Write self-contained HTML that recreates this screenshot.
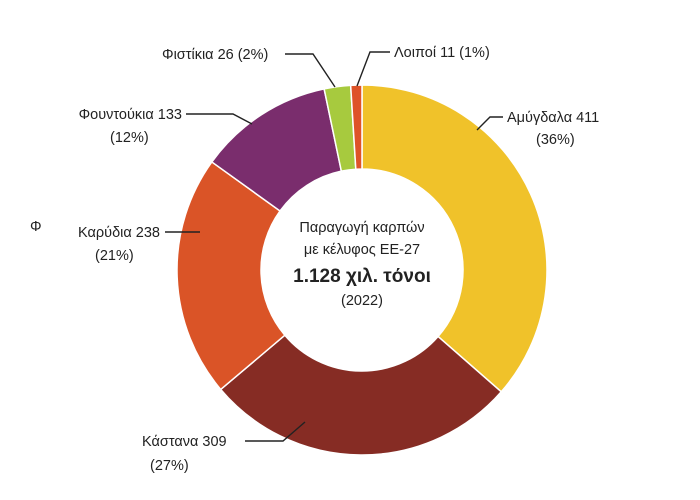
<!DOCTYPE html>
<html><head><meta charset="utf-8"><style>
html,body{margin:0;padding:0;background:#fff}
svg{display:block;font-family:"Liberation Sans Narrow","Liberation Sans",sans-serif;}
text{fill:#222}
</style></head><body>
<svg id="chart" width="700" height="500" viewBox="0 0 700 500">
<g id="slices"></g>
<g id="leaders" stroke="#222" stroke-width="1.4" fill="none">
<polyline points="477,130 490,117 503,117"/>
<polyline points="357,86 370,52 390,52"/>
<polyline points="285,54 313,54 335,87"/>
<polyline points="186,114 233,114 252,124"/>
<polyline points="165,232 200,232"/>
<polyline points="245,441 283,441 305,422"/>
</g>
<g font-size="14.5">
<text x="507" y="122">Αμύγδαλα 411</text>
<text x="536" y="144">(36%)</text>
<text x="394" y="57">Λοιποί 11 (1%)</text>
<text x="162" y="59">Φιστίκια 26 (2%)</text>
<text x="182" y="119" text-anchor="end">Φουντούκια 133</text>
<text x="110" y="142">(12%)</text>
<text x="30" y="231">Φ</text>
<text x="160" y="237" text-anchor="end">Καρύδια 238</text>
<text x="95" y="260">(21%)</text>
<text x="142" y="446">Κάστανα 309</text>
<text x="150" y="470">(27%)</text>
</g>
<g text-anchor="middle">
<text x="362" y="232" font-size="14.5">Παραγωγή καρπών</text>
<text x="362" y="254" font-size="14.5">με κέλυφος ΕΕ-27</text>
<text x="362" y="282" font-size="19" font-weight="bold">1.128 χιλ. τόνοι</text>
<text x="362" y="305" font-size="14.5">(2022)</text>
</g>
</svg>
<script>
const categories=["Αμύγδαλα","Κάστανα","Καρύδια","Φουντούκια","Φιστίκια","Λοιποί"];
const values=[411,309,238,133,26,11];
const colors=["#F0C22A","#862C24","#DA5427","#7A2D6D","#A7CA3E","#DE5328"];
const cx=362,cy=270,R=185,r=101;
const total=values.reduce((a,b)=>a+b,0);
const g=document.getElementById('slices');
function pt(rad,a){return [cx+rad*Math.sin(a),cy-rad*Math.cos(a)];}
let a0=0;
values.forEach((v,i)=>{
  const a1=a0+v/total*2*Math.PI;
  const large=(a1-a0)>Math.PI?1:0;
  const p1=pt(R,a0),p2=pt(R,a1),p3=pt(r,a1),p4=pt(r,a0);
  const p=document.createElementNS('http://www.w3.org/2000/svg','path');
  p.setAttribute('d',`M${p1[0]},${p1[1]} A${R},${R} 0 ${large} 1 ${p2[0]},${p2[1]} L${p3[0]},${p3[1]} A${r},${r} 0 ${large} 0 ${p4[0]},${p4[1]} Z`);
  p.setAttribute('fill',colors[i]);
  p.setAttribute('stroke','#fff');
  p.setAttribute('stroke-width','1.5');
  
  
  g.appendChild(p);
  a0=a1;
});
</script>
</body></html>
